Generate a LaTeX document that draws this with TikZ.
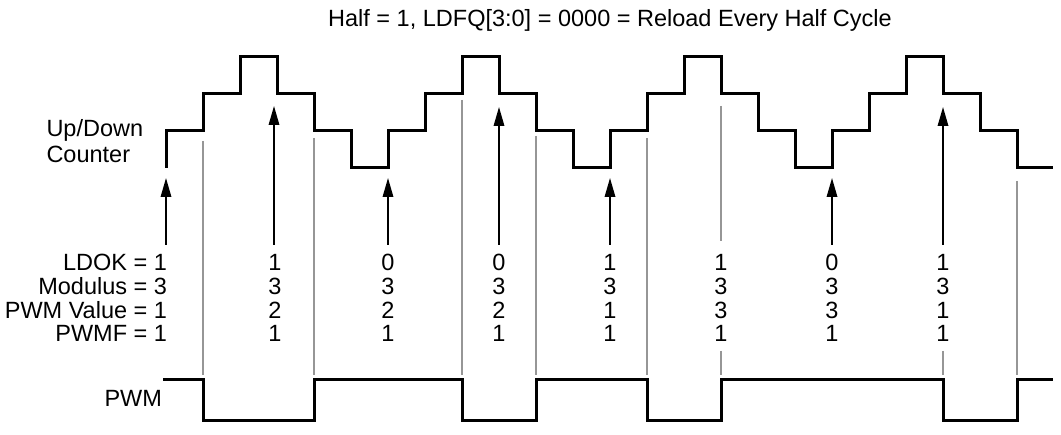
\documentclass[tikz,border=0pt]{standalone}
\usepackage{fontspec}
\setmainfont{Liberation Sans}
\usetikzlibrary{arrows.meta}
\definecolor{tickgray}{RGB}{150,150,150}
\begin{document}
\begin{tikzpicture}[x=1pt,y=-1pt,
  wave/.style={line width=3pt,line join=miter},
  guide/.style={line width=1.7pt,draw=tickgray},
  ldarrow/.style={line width=1.7pt,-{Triangle[length=19pt,width=10.5pt]}},
  txt/.style={font=\fontsize{23.5}{24}\selectfont,inner sep=0pt,outer sep=0pt},
]
\useasboundingbox (0,0) rectangle (1061,435);

% guide lines
\foreach \x/\a/\b [count=\i] in {203/141/375,314/138/375,462/100/375,536/136/375,647/138/375,721/106/241,721/351/375,943/351/375,1017/181/375}{
  \coordinate (g\i t) at (\x,\a);
  \coordinate (g\i b) at (\x,\b);
  \draw[guide] (g\i t) -- (g\i b);
}

% up/down counter
\draw[wave] (166,168)
  |- (203,131) |- (240,94) |- (277,57) |- (314,94) |- (351,131) |- (388,168)
  |- (425,131) |- (462,94) |- (499,57) |- (536,94) |- (573,131) |- (610,168)
  |- (647,131) |- (684,94) |- (721,57) |- (758,94) |- (795,131) |- (832,168)
  |- (869,131) |- (906,94) |- (943,57) |- (980,94) |- (1017,131) |- (1053,168);

% PWM
\draw[wave] (163,380) -| (203,421) -| (314,380) -| (462,421) -| (536,380)
  -| (647,421) -| (721,380) -| (943,421) -| (1017,380) -- (1053,380);

% load arrows
\foreach \x/\t [count=\i] in {166/178,274/106,388/178,499/107,610/178,832/178,943/107}{
  \coordinate (a\i s) at (\x,245);
  \coordinate (a\i e) at (\x,\t);
  \draw[ldarrow] (a\i s) -- (a\i e);
}

% texts
\node[txt,anchor=base] (title) at (610,26.7) {Half = 1, LDFQ[3:0] = 0000 = Reload Every Half Cycle};
\node[txt,anchor=base west] (updown) at (46.5,137) {Up/Down};
\node[txt,anchor=base west] (counterlbl) at (46.5,162.5) {Counter};
\node[txt,anchor=base east] (pwmlbl) at (162,406.7) {PWM};

\node[txt,anchor=base east] (ldok) at (167,270.7) {LDOK = 1};
\node[txt,anchor=base east] (modulus) at (167,294.4) {Modulus = 3};
\node[txt,anchor=base east] (pwmval) at (167,318.1) {PWM Value = 1};
\node[txt,anchor=base east] (pwmf) at (167,341.8) {PWMF = 1};

\foreach \x/\p/\q/\r/\s [count=\i] in {275/1/3/2/1,388/0/3/2/1,499/0/3/2/1,610/1/3/1/1,721/1/3/3/1,832/0/3/3/1,943/1/3/1/1}{
  \node[txt,anchor=base] (c\i r1) at (\x,270.7) {\p};
  \node[txt,anchor=base] (c\i r2) at (\x,294.4) {\q};
  \node[txt,anchor=base] (c\i r3) at (\x,318.1) {\r};
  \node[txt,anchor=base] (c\i r4) at (\x,341.8) {\s};
}
\end{tikzpicture}
\end{document}
